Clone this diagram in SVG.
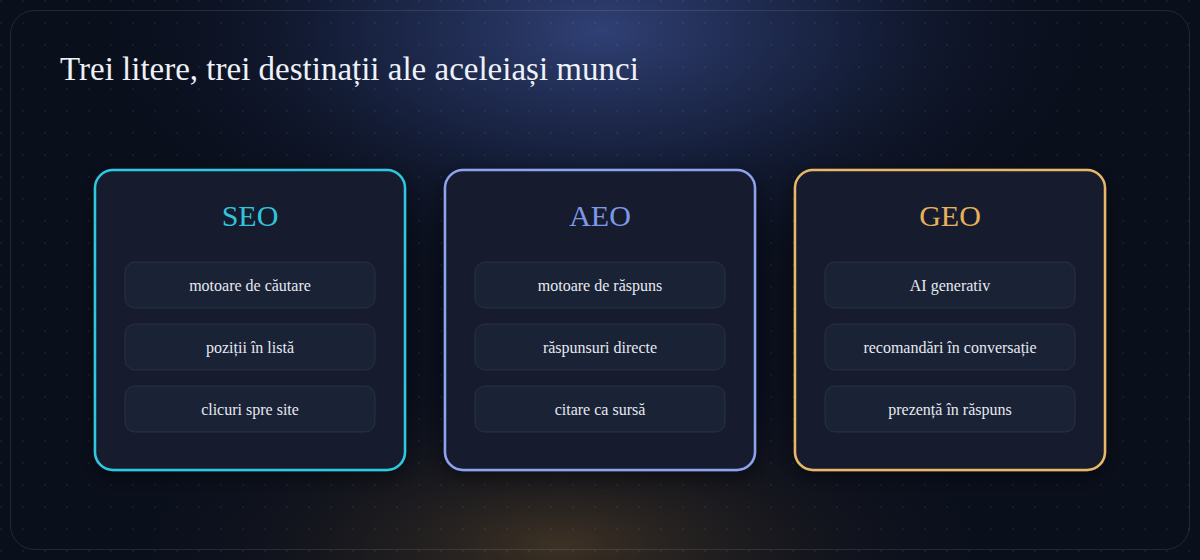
<svg xmlns="http://www.w3.org/2000/svg" width="1200" height="560" viewBox="0 0 1200 560">
<defs>
  <radialGradient id="glowBlue" cx="600" cy="30" r="520" gradientUnits="userSpaceOnUse" gradientTransform="translate(600 30) scale(1 0.5) translate(-600 -30)">
    <stop offset="0" stop-color="#33437a" stop-opacity="0.95"/>
    <stop offset="0.45" stop-color="#22305a" stop-opacity="0.6"/>
    <stop offset="1" stop-color="#0b1020" stop-opacity="0"/>
  </radialGradient>
  <radialGradient id="glowAmber" cx="560" cy="545" r="460" gradientUnits="userSpaceOnUse" gradientTransform="translate(560 545) scale(1 0.38) translate(-560 -545)">
    <stop offset="0" stop-color="#4a3a26" stop-opacity="0.8"/>
    <stop offset="0.5" stop-color="#2a2420" stop-opacity="0.4"/>
    <stop offset="1" stop-color="#0b1020" stop-opacity="0"/>
  </radialGradient>
  <pattern id="dots" x="0" y="0" width="22" height="22" patternUnits="userSpaceOnUse">
    <circle cx="1" cy="1" r="0.9" fill="#ffffff" fill-opacity="0.07"/>
  </pattern>
  <filter id="shadow" x="-20%" y="-20%" width="140%" height="140%">
    <feDropShadow dx="0" dy="6" stdDeviation="10" flood-color="#000" flood-opacity="0.45"/>
  </filter>
</defs>
<style>
  .title{font-family:"Liberation Serif","Times New Roman",serif;font-size:33px;fill:#eef1f7}
  .card{fill:#141b2f;stroke-width:2.5}
  .head{font-family:"Liberation Serif","Times New Roman",serif;font-size:30px;text-anchor:middle}
  .item{fill:#1a2236;stroke:#ffffff;stroke-opacity:0.08;stroke-width:1}
  .itxt{font-family:"Liberation Serif","Times New Roman",serif;font-size:16px;fill:#e6e9f0;text-anchor:middle}
</style>
<rect width="1200" height="560" fill="#0a0f1c"/>
<rect width="1200" height="560" fill="url(#glowBlue)"/>
<rect width="1200" height="560" fill="url(#glowAmber)"/>
<rect width="1200" height="560" fill="url(#dots)"/>
<rect x="10.5" y="10.5" width="1179" height="539" rx="24" fill="none" stroke="#ffffff" stroke-opacity="0.1" stroke-width="1"/>
<text class="title" x="60" y="80">Trei litere, trei destinații ale aceleiași munci</text>

<g id="connectors"></g>

<g id="seo">
  <rect class="card" x="95" y="170" width="310" height="300" rx="18" stroke="#2ec8e0" filter="url(#shadow)"/>
  <text class="head" x="250" y="226" fill="#33c3dc">SEO</text>
  <rect class="item" x="125" y="262" width="250" height="46" rx="10"/>
  <text class="itxt" x="250" y="291">motoare de căutare</text>
  <rect class="item" x="125" y="324" width="250" height="46" rx="10"/>
  <text class="itxt" x="250" y="353">poziții în listă</text>
  <rect class="item" x="125" y="386" width="250" height="46" rx="10"/>
  <text class="itxt" x="250" y="415">clicuri spre site</text>
</g>

<g id="aeo">
  <rect class="card" x="445" y="170" width="310" height="300" rx="18" stroke="#8ca3f0" filter="url(#shadow)"/>
  <text class="head" x="600" y="226" fill="#7f97e8">AEO</text>
  <rect class="item" x="475" y="262" width="250" height="46" rx="10"/>
  <text class="itxt" x="600" y="291">motoare de răspuns</text>
  <rect class="item" x="475" y="324" width="250" height="46" rx="10"/>
  <text class="itxt" x="600" y="353">răspunsuri directe</text>
  <rect class="item" x="475" y="386" width="250" height="46" rx="10"/>
  <text class="itxt" x="600" y="415">citare ca sursă</text>
</g>

<g id="geo">
  <rect class="card" x="795" y="170" width="310" height="300" rx="18" stroke="#e8b866" filter="url(#shadow)"/>
  <text class="head" x="950" y="226" fill="#e6b05c">GEO</text>
  <rect class="item" x="825" y="262" width="250" height="46" rx="10"/>
  <text class="itxt" x="950" y="291">AI generativ</text>
  <rect class="item" x="825" y="324" width="250" height="46" rx="10"/>
  <text class="itxt" x="950" y="353">recomandări în conversație</text>
  <rect class="item" x="825" y="386" width="250" height="46" rx="10"/>
  <text class="itxt" x="950" y="415">prezență în răspuns</text>
</g>
</svg>
